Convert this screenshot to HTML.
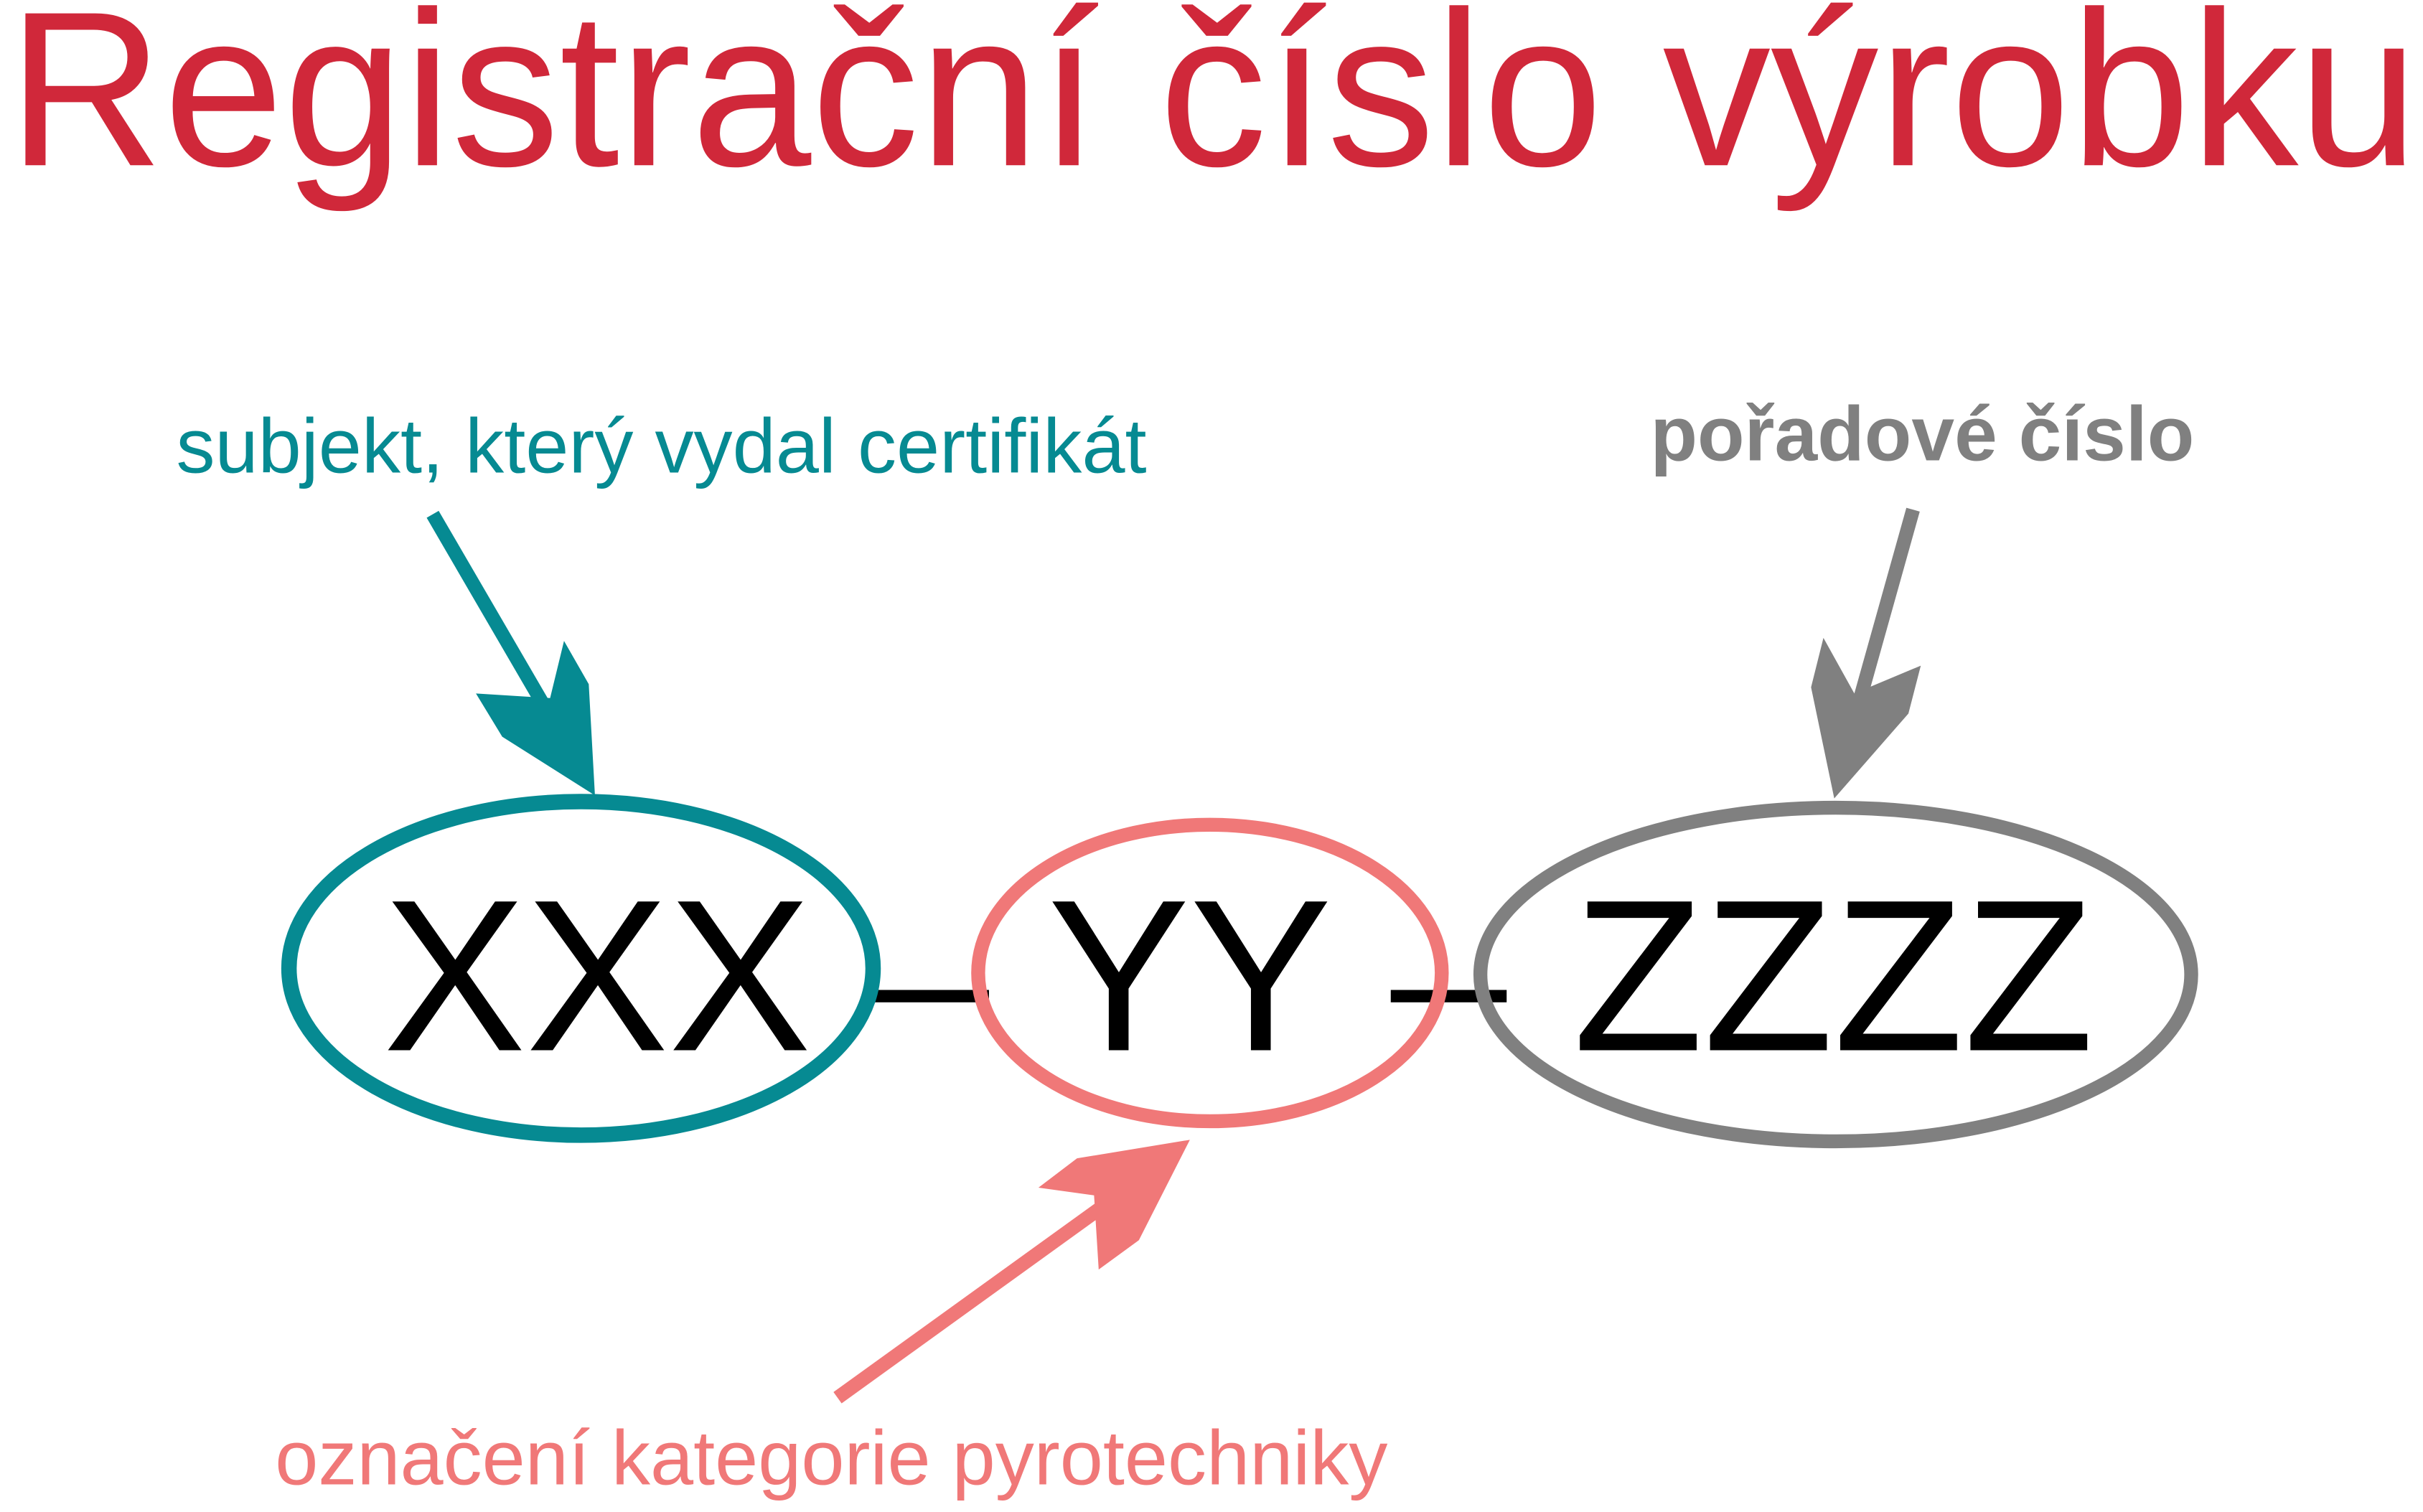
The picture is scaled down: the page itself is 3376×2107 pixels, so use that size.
<!DOCTYPE html>
<html><head><meta charset="utf-8"><style>
html,body{margin:0;padding:0;background:#fff;}
svg{display:block;}
</style></head><body>
<svg width="3376" height="2107" viewBox="0 0 1568 979" preserveAspectRatio="none" xmlns="http://www.w3.org/2000/svg">
<text x="5" y="107" font-family="Liberation Sans, sans-serif" font-size="143" fill="#d0283a" textLength="1560" lengthAdjust="spacingAndGlyphs">Registrační číslo výrobku</text>
<text x="114" y="306" font-family="Liberation Sans, sans-serif" font-size="50" fill="#068a92" textLength="628" lengthAdjust="spacingAndGlyphs">subjekt, který vydal certifikát</text>
<text x="1068" y="298" font-family="Liberation Sans, sans-serif" font-weight="bold" font-size="50" fill="#808080" textLength="352" lengthAdjust="spacingAndGlyphs">pořadové číslo</text>
<text x="178" y="961" font-family="Liberation Sans, sans-serif" font-size="50" fill="#f07878" textLength="720" lengthAdjust="spacingAndGlyphs">označení kategorie pyrotechniky</text>
<line x1="565" y1="645" x2="640" y2="645" stroke="#000" stroke-width="8"/>
<line x1="900" y1="645" x2="975" y2="645" stroke="#000" stroke-width="8"/>
<ellipse cx="376" cy="627" rx="189" ry="108" fill="none" stroke="#068a92" stroke-width="10"/>
<ellipse cx="783" cy="630" rx="150" ry="96" fill="none" stroke="#f07878" stroke-width="9"/>
<ellipse cx="1188" cy="631" rx="230" ry="108" fill="none" stroke="#808080" stroke-width="9"/>
<text x="248" y="680" font-family="Liberation Sans, sans-serif" font-size="140" fill="#000" textLength="277" lengthAdjust="spacingAndGlyphs">XXX</text>
<text x="678" y="680" font-family="Liberation Sans, sans-serif" font-size="140" fill="#000" textLength="184" lengthAdjust="spacingAndGlyphs">YY</text>
<text x="1018" y="680" font-family="Liberation Sans, sans-serif" font-size="140" fill="#000" textLength="337" lengthAdjust="spacingAndGlyphs">ZZZZ</text>
<line x1="280" y1="333" x2="355" y2="462" stroke="#068a92" stroke-width="9"/>
<polygon points="308,449 325,477 385,515 381,443 365,415 356,452" fill="#068a92"/>
<line x1="1238" y1="330" x2="1203" y2="455" stroke="#808080" stroke-width="9"/>
<polygon points="1180,413 1172,445 1187,517 1235,462 1243,431 1200,449" fill="#808080"/>
<line x1="542" y1="905" x2="718" y2="778" stroke="#f07878" stroke-width="9"/>
<polygon points="770,738 697,750 672,769 708,774 711,822 737,803" fill="#f07878"/>
</svg>
</body></html>
